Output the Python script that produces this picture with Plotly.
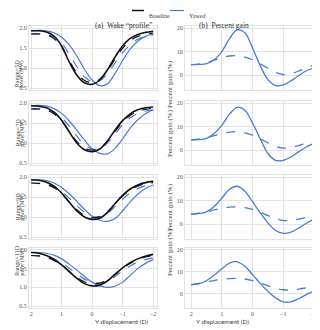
import plotly.graph_objects as go
from plotly.subplots import make_subplots

# lateral offset of the downstream turbine (D)
y_disp = [2, 1.75, 1.5, 1.25, 1, 0.75, 0.5, 0.25, 0, -0.25, -0.5, -0.75, -1, -1.25, -1.5, -1.75, -2]

ranges = ['5D', '7D', '9D', '11D']

# power (MW) - baseline / yawed, solid and dashed model
base_5d = [1.93, 1.93, 1.90, 1.80, 1.55, 1.15, 0.82, 0.63, 0.59, 0.70, 0.95, 1.27, 1.55, 1.74, 1.84, 1.89, 1.92]
base_5d_dash = [1.85, 1.85, 1.83, 1.74, 1.52, 1.18, 0.88, 0.69, 0.64, 0.72, 0.93, 1.22, 1.49, 1.68, 1.79, 1.84, 1.87]
yaw_5d = [1.93, 1.94, 1.93, 1.88, 1.77, 1.58, 1.30, 0.97, 0.70, 0.56, 0.60, 0.86, 1.18, 1.47, 1.67, 1.79, 1.85]
yaw_5d_dash = [1.85, 1.85, 1.84, 1.78, 1.62, 1.35, 1.03, 0.78, 0.66, 0.68, 0.86, 1.12, 1.38, 1.58, 1.72, 1.79, 1.83]

base_7d = [1.93, 1.92, 1.88, 1.77, 1.57, 1.28, 1.00, 0.83, 0.78, 0.85, 1.05, 1.32, 1.56, 1.73, 1.83, 1.88, 1.90]
base_7d_dash = [1.85, 1.85, 1.82, 1.73, 1.55, 1.29, 1.04, 0.87, 0.82, 0.87, 1.04, 1.29, 1.52, 1.69, 1.79, 1.84, 1.87]
yaw_7d = [1.93, 1.94, 1.92, 1.86, 1.74, 1.55, 1.32, 1.07, 0.86, 0.74, 0.73, 0.86, 1.10, 1.37, 1.58, 1.73, 1.83]
yaw_7d_dash = [1.85, 1.85, 1.83, 1.77, 1.63, 1.42, 1.17, 0.96, 0.85, 0.86, 1.00, 1.22, 1.45, 1.63, 1.74, 1.80, 1.83]

base_9d = [1.93, 1.92, 1.87, 1.77, 1.60, 1.37, 1.15, 1.00, 0.94, 0.97, 1.11, 1.33, 1.54, 1.70, 1.80, 1.86, 1.89]
base_9d_dash = [1.85, 1.84, 1.81, 1.73, 1.58, 1.38, 1.18, 1.04, 0.98, 1.01, 1.13, 1.33, 1.52, 1.67, 1.77, 1.83, 1.86]
yaw_9d = [1.93, 1.93, 1.91, 1.85, 1.74, 1.58, 1.39, 1.19, 1.02, 0.92, 0.89, 0.96, 1.15, 1.38, 1.57, 1.71, 1.80]
yaw_9d_dash = [1.85, 1.84, 1.82, 1.76, 1.64, 1.47, 1.28, 1.12, 1.02, 1.01, 1.09, 1.26, 1.44, 1.60, 1.71, 1.78, 1.82]

base_11d = [1.93, 1.91, 1.85, 1.75, 1.60, 1.42, 1.24, 1.10, 1.04, 1.06, 1.17, 1.34, 1.52, 1.66, 1.76, 1.83, 1.88]
base_11d_dash = [1.85, 1.84, 1.80, 1.72, 1.59, 1.43, 1.27, 1.15, 1.10, 1.11, 1.20, 1.35, 1.51, 1.64, 1.74, 1.81, 1.85]
yaw_11d = [1.93, 1.93, 1.91, 1.86, 1.76, 1.62, 1.46, 1.29, 1.14, 1.04, 1.00, 1.03, 1.14, 1.32, 1.50, 1.64, 1.74]
yaw_11d_dash = [1.85, 1.84, 1.81, 1.75, 1.65, 1.51, 1.36, 1.22, 1.14, 1.12, 1.17, 1.29, 1.44, 1.57, 1.67, 1.74, 1.79]

# percent gain (%)
gain_5d = [4.4, 4.5, 4.8, 6.5, 10.0, 15.5, 19.3, 18.0, 11.5, 4.0, -2.0, -4.5, -4.2, -2.5, -0.3, 1.8, 3.0]
gain_5d_dash = [4.4, 4.6, 5.3, 6.3, 7.3, 8.1, 8.2, 7.6, 6.5, 4.8, 2.9, 1.1, 0.2, 0.5, 1.7, 3.1, 4.1]
gain_7d = [4.3, 4.4, 5.0, 7.0, 10.5, 15.3, 18.2, 17.0, 11.5, 4.8, -1.5, -4.4, -4.4, -3.0, -0.8, 1.3, 2.8]
gain_7d_dash = [4.3, 4.6, 5.2, 6.1, 7.0, 7.6, 7.8, 7.3, 6.3, 4.8, 3.1, 1.6, 0.8, 1.0, 1.9, 2.9, 3.7]
gain_9d = [4.2, 4.4, 5.2, 7.5, 11.0, 14.8, 16.1, 14.0, 9.5, 4.8, 0.5, -2.8, -4.0, -3.5, -1.8, 0.3, 2.0]
gain_9d_dash = [4.2, 4.6, 5.2, 6.0, 6.7, 7.2, 7.3, 7.0, 6.2, 5.0, 3.6, 2.3, 1.5, 1.5, 2.1, 2.9, 3.6]
gain_11d = [4.2, 4.6, 6.0, 8.5, 11.5, 14.0, 14.6, 12.6, 8.8, 4.8, 1.2, -1.8, -3.6, -3.6, -2.2, -0.3, 1.4]
gain_11d_dash = [4.2, 4.8, 5.4, 6.1, 6.6, 7.0, 7.1, 6.8, 6.1, 5.0, 3.8, 2.6, 1.9, 1.8, 2.2, 2.8, 3.4]

power = [(base_5d, base_5d_dash, yaw_5d, yaw_5d_dash),
         (base_7d, base_7d_dash, yaw_7d, yaw_7d_dash),
         (base_9d, base_9d_dash, yaw_9d, yaw_9d_dash),
         (base_11d, base_11d_dash, yaw_11d, yaw_11d_dash)]
gain = [(gain_5d, gain_5d_dash), (gain_7d, gain_7d_dash),
        (gain_9d, gain_9d_dash), (gain_11d, gain_11d_dash)]

BLACK = '#111111'
BLUE = '#4a7bd4'
SERIF = 'Liberation Serif'
# page body has an 8px margin, so the figure is a bit smaller than the window
W, H = 312, 322


def px(x):
    return x / W


def py(y):
    return 1 - y / H


fig = make_subplots(rows=4, cols=2)

for r in range(4):
    b, bd, yw, ywd = power[r]
    fig.add_trace(go.Scatter(x=y_disp, y=yw, mode='lines', name='Yawed', showlegend=False,
                             line=dict(color=BLUE, width=1.2, shape='spline')), row=r+1, col=1)
    fig.add_trace(go.Scatter(x=y_disp, y=ywd, mode='lines', showlegend=False,
                             line=dict(color=BLUE, width=1.2, dash='dash', shape='spline')), row=r+1, col=1)
    fig.add_trace(go.Scatter(x=y_disp, y=bd, mode='lines', showlegend=False,
                             line=dict(color=BLACK, width=1.2, dash='dash', shape='spline')), row=r+1, col=1)
    fig.add_trace(go.Scatter(x=y_disp, y=b, mode='lines', name='Baseline', showlegend=False,
                             line=dict(color=BLACK, width=1.6, shape='spline')), row=r+1, col=1)
    g, gd = gain[r]
    fig.add_trace(go.Scatter(x=y_disp, y=g, mode='lines', showlegend=False,
                             line=dict(color=BLUE, width=1.3, shape='spline')), row=r+1, col=2)
    fig.add_trace(go.Scatter(x=y_disp, y=gd, mode='lines', showlegend=False,
                             line=dict(color=BLUE, width=1.3, dash='dash', shape='spline')), row=r+1, col=2)

# pixel boxes of the panels (figure pixels)
rows_px = [(18, 82), (93, 157), (167, 231), (240, 300)]
cols_px = [(21, 149), (177, 309)]

axis_style = dict(showgrid=True, gridcolor='#e3e3e3', gridwidth=1, zeroline=False,
                  showline=True, linecolor='#e3e3e3', mirror=True, ticks='',
                  tickfont=dict(family=SERIF, size=6, color='#555'), automargin=False)

for r in range(4):
    top, bot = rows_px[r]
    yd = [py(bot), py(top)]
    for c in range(2):
        x0, x1 = cols_px[c]
        fig.update_xaxes(domain=[px(x0), px(x1)], row=r+1, col=c+1,
                         range=[2.07, -2.13] if c == 0 else [2.2, -2.1],
                         tickvals=[2, 1, 0, -1, -2],
                         ticktext=['2', '1', '0', '\u22121', '\u22122'],
                         showticklabels=(r == 3), **axis_style)
        if c == 0:
            fig.update_yaxes(domain=yd, row=r+1, col=1, range=[0.45, 2.05],
                             tickvals=[0.5, 1.0, 1.5, 2.0], ticktext=['0.5', '1.0', '1.5', '2.0'],
                             **axis_style)
        else:
            fig.update_yaxes(domain=yd, row=r+1, col=2, range=[-6.4, 20.9],
                             tickvals=[0, 10, 20], **axis_style)

    mid = py((top + bot) / 2)
    fig.add_annotation(x=px(3), y=mid, xref='paper', yref='paper', textangle=-90, showarrow=False,
                       text='Range=' + ranges[r], font=dict(family=SERIF, size=6.3, color='#444'))
    fig.add_annotation(x=px(8.8), y=mid, xref='paper', yref='paper', textangle=-90, showarrow=False,
                       text='power (MW)', font=dict(family=SERIF, size=5.3, color='#444'))
    fig.add_annotation(x=px(162), y=mid, xref='paper', yref='paper', textangle=-90, showarrow=False,
                       text='Percent gain (%)', font=dict(family=SERIF, size=7, color='#444'))

fig.add_annotation(x=px(85), y=py(11), xref='paper', yref='paper', showarrow=False,
                   text='(a)  Wake \u201cprofile\u201d', font=dict(family=SERIF, size=7.5, color='#333'))
fig.add_annotation(x=px(243), y=py(11), xref='paper', yref='paper', showarrow=False,
                   text='(b)  Percent gain', font=dict(family=SERIF, size=7.5, color='#333'))
for cx in [85, 243]:
    fig.add_annotation(x=px(cx), y=py(318.6), xref='paper', yref='paper', showarrow=False,
                       text='Y displacement (D)', font=dict(family='Lato', size=6.5, color='#444'))

# legend drawn by hand so the line keys stay short
for x0, x1, col, label in [(124, 136, BLACK, 'Baseline'), (162, 176, BLUE, 'Yawed')]:
    fig.add_shape(type='line', xref='paper', yref='paper', x0=px(x0), x1=px(x1), y0=py(2.5), y1=py(2.5),
                  line=dict(color=col, width=1.5 if col == BLACK else 1.2))
    fig.add_annotation(x=px(x1 + 3), y=py(3), xref='paper', yref='paper', showarrow=False,
                       xanchor='left', text=label, font=dict(family=SERIF, size=6, color='#444'))

fig.update_layout(
    width=W, height=H, template='none',
    margin=dict(l=0, r=0, t=0, b=0),
    paper_bgcolor='white', plot_bgcolor='white',
    showlegend=False,
)

fig.write_html("out.html")
